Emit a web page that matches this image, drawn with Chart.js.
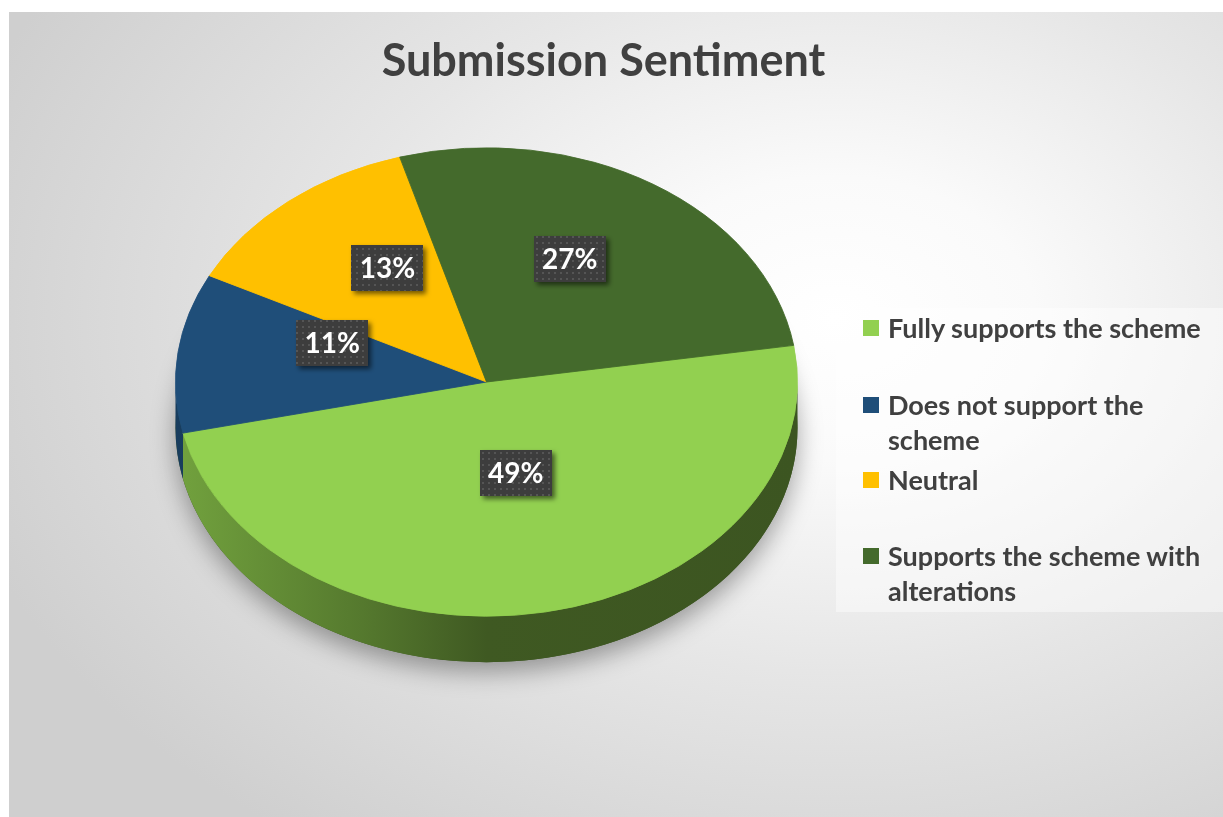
<!DOCTYPE html>
<html>
<head>
<meta charset="utf-8">
<script src="https://cdn.jsdelivr.net/npm/chart.js@4.4.1/dist/chart.umd.min.js"></script>
<style>
  html, body { margin: 0; padding: 0; background: #fff; }
  #wrap { position: relative; width: 1223px; height: 817px; overflow: hidden; background: #fff; }
  #bg { position: absolute; left: 9px; top: 12px; right: 0; bottom: 0;
        background: radial-gradient(ellipse 75% 80% at 68% 38%, #ffffff 0%, #fafafa 22%, #e6e6e6 55%, #cfcfcf 100%); }
  #c { position: absolute; left: 0; top: 0; }
  #title { position: absolute; left: 0; width: 1207px; top: 32px; text-align: center;
           font: bold 45px Lato, "Open Sans", sans-serif; color: #404040; line-height: 54px; }
  #legendBox { position: absolute; left: 836px; top: 308px; width: 387px; height: 304px;
               background: rgba(255,255,255,0.45); }
  .item { position: absolute; left: 888px; font: bold 27px Lato, "Open Sans", sans-serif; color: #404040; line-height: 35px; white-space: nowrap; }
  .sw { position: absolute; left: 863px; width: 16px; height: 16px; }
</style>
</head>
<body>
<div id="wrap">
  <div id="bg"></div>
  <canvas id="c" width="1223" height="817"></canvas>
  <div id="title">Submission Sentiment</div>
  <div id="legendBox"></div>
  <div id="legend"></div>
</div>
<script>
// ---- data ----
const categories = ['Fully supports the scheme', 'Does not support the scheme', 'Neutral', 'Supports the scheme with alterations'];
const legendLines = [['Fully supports the scheme'], ['Does not support the', 'scheme'], ['Neutral'], ['Supports the scheme with', 'alterations']];
const values = [49, 11, 13, 27];
const colors = ['#92D050', '#1F4E79', '#FFC000', '#446A2C'];
const chartTitle = 'Submission Sentiment';

// ---- style constants ----
const SQUASH = 0.753;     // vertical flattening of the pie top
const DEPTH = 46;         // thickness of pie side
const LABEL_SHIFT = -24;  // perspective shift for labels
const legendLineTops = [310, 387, 462, 538];

document.getElementById('title').textContent = chartTitle;

// legend (HTML)
const lg = document.getElementById('legend');
legendLines.forEach((lines, i) => {
  const sw = document.createElement('div');
  sw.className = 'sw';
  sw.style.top = (legendLineTops[i] + 10) + 'px';
  sw.style.background = colors[i];
  lg.appendChild(sw);
  const t = document.createElement('div');
  t.className = 'item';
  t.style.top = legendLineTops[i] + 'px';
  t.innerHTML = lines.join('<br>');
  lg.appendChild(t);
});

function shade(hex, f) {
  const n = parseInt(hex.slice(1), 16);
  let r = (n >> 16) & 255, g = (n >> 8) & 255, b = n & 255;
  r = Math.round(r * f); g = Math.round(g * f); b = Math.round(b * f);
  return `rgb(${Math.min(255,r)},${Math.min(255,g)},${Math.min(255,b)})`;
}

function makePattern(ctx) {
  const p = document.createElement('canvas');
  p.width = 6; p.height = 6;
  const pc = p.getContext('2d');
  pc.fillStyle = '#3d3d3d';
  pc.fillRect(0, 0, 6, 6);
  pc.fillStyle = '#555555';
  pc.fillRect(2, 2, 2, 2);
  return ctx.createPattern(p, 'repeat');
}

const pie3d = {
  id: 'pie3d',
  beforeDatasetsDraw(chart) {
    const ctx = chart.ctx;
    const meta = chart.getDatasetMeta(0);
    const a0 = meta.data[0];
    const cx = a0.x, cy = a0.y, r = a0.outerRadius, ry = r * SQUASH;
    ctx.save();
    // soft shadow under the pie
    ctx.save();
    ctx.shadowColor = 'rgba(0,0,0,0.35)';
    ctx.shadowBlur = 25;
    ctx.shadowOffsetY = 10;
    ctx.fillStyle = '#3a5220';
    ctx.beginPath();
    ctx.ellipse(cx, cy + DEPTH, r, ry, 0, 0, Math.PI * 2);
    ctx.fill();
    ctx.restore();
    // side walls for the visible front half
    meta.data.forEach((arc, i) => {
      let s = arc.startAngle, e = arc.endAngle;
      const ranges = [[0, Math.PI], [2 * Math.PI, 3 * Math.PI], [-2 * Math.PI, -Math.PI]];
      ranges.forEach(([lo, hi]) => {
        const a1 = Math.max(s, lo), a2 = Math.min(e, hi);
        if (a2 <= a1) return;
        const g = ctx.createLinearGradient(cx - r, 0, cx + r, 0);
        g.addColorStop(0, shade(colors[i], 0.78));
        g.addColorStop(0.3, shade(colors[i], 0.58));
        g.addColorStop(0.5, shade(colors[i], 0.43));
        g.addColorStop(1, shade(colors[i], 0.41));
        ctx.fillStyle = g;
        ctx.beginPath();
        ctx.ellipse(cx, cy, r, ry, 0, a1, a2, false);
        ctx.lineTo(cx + r * Math.cos(a2), cy + ry * Math.sin(a2) + DEPTH);
        ctx.ellipse(cx, cy + DEPTH, r, ry, 0, a2, a1, true);
        ctx.closePath();
        ctx.fill();
      });
    });
    // flatten the top surface drawn by the library
    ctx.translate(cx, cy);
    ctx.scale(1, SQUASH);
    ctx.translate(-cx, -cy);
  },
  afterDatasetsDraw(chart) {
    const ctx = chart.ctx;
    ctx.restore();
    const meta = chart.getDatasetMeta(0);
    const pattern = makePattern(ctx);
    const total = values.reduce((a, b) => a + b, 0);
    meta.data.forEach((arc, i) => {
      const p = arc.tooltipPosition();
      const x = p.x;
      const y = arc.y + (p.y - arc.y) * SQUASH + LABEL_SHIFT;
      const txt = Math.round(values[i] / total * 100) + '%';
      const w = 72, h = 46;
      ctx.save();
      ctx.shadowColor = 'rgba(0,0,0,0.55)';
      ctx.shadowBlur = 5;
      ctx.shadowOffsetX = 3;
      ctx.shadowOffsetY = 3;
      ctx.fillStyle = pattern;
      ctx.fillRect(Math.round(x - w / 2), Math.round(y - h / 2), w, h);
      ctx.restore();
      ctx.save();
      ctx.fillStyle = '#ffffff';
      ctx.font = 'bold 28px Lato, "Open Sans", sans-serif';
      ctx.textAlign = 'center';
      ctx.textBaseline = 'middle';
      ctx.fillText(txt, x, y + 1);
      ctx.restore();
    });
  }
};

new Chart(document.getElementById('c'), {
  type: 'pie',
  data: {
    labels: categories,
    datasets: [{
      data: values,
      backgroundColor: colors,
      borderColor: colors,
      borderWidth: 1
    }]
  },
  options: {
    responsive: false,
    animation: false,
    rotation: 81,
    layout: { padding: { left: 175, right: 425, top: 70, bottom: 123 } },
    plugins: {
      legend: { display: false },
      tooltip: { enabled: false },
      title: { display: false }
    }
  },
  plugins: [pie3d]
});
</script>
</body>
</html>
